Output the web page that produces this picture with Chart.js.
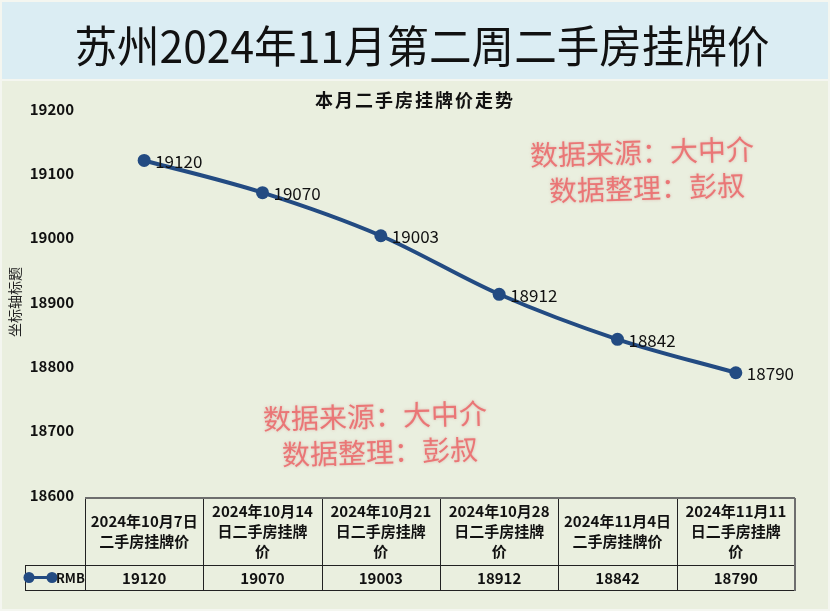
<!DOCTYPE html>
<html>
<head>
<meta charset="utf-8">
<script src="https://cdn.jsdelivr.net/npm/chart.js@4/dist/chart.umd.min.js"></script>
<style>
  html, body { margin: 0; padding: 0; background: #ffffff; }
  #wrap { width: 830px; height: 611px; position: relative; }
</style>
</head>
<body>
<div id="wrap"><canvas id="c"></canvas></div>
<script>
// 数据
const categories = [
  ['2024年10月7日', '二手房挂牌价'],
  ['2024年10月14', '日二手房挂牌', '价'],
  ['2024年10月21', '日二手房挂牌', '价'],
  ['2024年10月28', '日二手房挂牌', '价'],
  ['2024年11月4日', '二手房挂牌价'],
  ['2024年11月11', '日二手房挂牌', '价']
];
const prices = [19120, 19070, 19003, 18912, 18842, 18790];
const seriesName = 'RMB';
const yTicks = [18600, 18700, 18800, 18900, 19000, 19100, 19200];
const mainTitle = '苏州2024年11月第二周二手房挂牌价';
const subTitle = '本月二手房挂牌价走势';
const watermarkLines = ['数据来源：大中介', '数据整理：彭叔'];

const LINE_COLOR = '#234b82';
const FONT = '"Noto Sans CJK SC", "Noto Sans", sans-serif';

// 背景：标题蓝条 + 图表绿底 + 标题文字
const bgPlugin = {
  id: 'bg',
  beforeDraw(chart) {
    const c = chart.ctx;
    c.save();
    c.fillStyle = '#f4f6f0';
    c.fillRect(0, 0, chart.width, chart.height);
    c.fillStyle = '#dbedf3';
    c.fillRect(2, 2, chart.width - 4, 77);
    c.fillStyle = '#eaefdf';
    c.fillRect(2, 81, chart.width - 4, chart.height - 83);

    // 大标题，拉到参考图的宽度
    c.fillStyle = '#111';
    c.textAlign = 'center';
    c.textBaseline = 'middle';
    c.font = '42px ' + FONT;
    const w = c.measureText(mainTitle).width;
    c.save();
    c.translate(422, 46);
    c.scale(695 / w, 1.05);
    c.fillText(mainTitle, 0, 0);
    c.restore();

    c.font = 'bold 18px ' + FONT;
    c.letterSpacing = '2px';
    c.fillText(subTitle, 415, 100);
    c.letterSpacing = '0px';
    c.restore();
  }
};

// 数据标签 + 水印 + 底部数据表
const extrasPlugin = {
  id: 'extras',
  afterDatasetsDraw(chart) {
    const c = chart.ctx;
    const meta = chart.getDatasetMeta(0);
    c.save();
    c.fillStyle = '#111';
    c.font = '17px ' + FONT;
    c.textAlign = 'left';
    c.textBaseline = 'middle';
    meta.data.forEach((pt, i) => {
      c.fillText(String(prices[i]), pt.x + 11, pt.y + 1);
    });
    c.restore();
  },
  afterDraw(chart) {
    const c = chart.ctx;
    const area = chart.chartArea;
    const x = chart.scales.x;

    // 水印
    const drawMark = (cx, cy) => {
      c.save();
      c.translate(cx, cy);
      c.rotate(-0.028);
      c.font = '28px ' + FONT;
      c.fillStyle = '#ea7676';
      c.shadowColor = 'rgba(200,80,80,0.35)';
      c.shadowBlur = 3;
      c.textAlign = 'center';
      c.textBaseline = 'middle';
      c.fillText(watermarkLines[0], 0, 0);
      c.fillText(watermarkLines[1], 4, 36);
      c.restore();
    };
    drawMark(642, 152);
    drawMark(375, 416);

    // 数据表
    const n = categories.length;
    const colW = (area.right - area.left) / n;
    const top = 498, mid = 565, bot = 590;
    const legL = 25;

    c.save();
    c.textAlign = 'center';
    c.textBaseline = 'middle';
    c.fillStyle = '#111';
    categories.forEach((lines, i) => {
      const cx = x.getPixelForValue(i);
      c.font = 'bold 15px ' + FONT;
      const lh = 20;
      const y0 = (top + mid) / 2 - (lines.length - 1) * lh / 2;
      lines.forEach((t, k) => c.fillText(t, cx, y0 + k * lh));
      c.fillText(String(prices[i]), cx, (mid + bot) / 2 + 1);
    });

    // 表格线
    c.strokeStyle = '#222';
    c.lineWidth = 1;
    c.beginPath();
    for (let i = 0; i < n; i++) {
      const bx = Math.round(area.left + i * colW) + 0.5;
      c.moveTo(bx, top); c.lineTo(bx, bot);
    }
    c.moveTo(legL, mid + 0.5); c.lineTo(area.right, mid + 0.5);
    c.moveTo(legL, bot + 0.5); c.lineTo(area.right, bot + 0.5);
    c.moveTo(legL + 0.5, mid); c.lineTo(legL + 0.5, bot);
    c.stroke();
    c.strokeStyle = '#6e6e6e';
    c.lineWidth = 2;
    c.beginPath();
    c.moveTo(area.left, top); c.lineTo(area.right, top);
    c.moveTo(area.right, top); c.lineTo(area.right, bot + 1);
    c.stroke();

    // 图例
    const ly = (mid + bot) / 2;
    c.strokeStyle = LINE_COLOR;
    c.fillStyle = LINE_COLOR;
    c.lineWidth = 3;
    c.beginPath();
    c.moveTo(29, ly); c.lineTo(52, ly);
    c.stroke();
    [29, 52].forEach(px => {
      c.beginPath(); c.arc(px, ly, 5.5, 0, Math.PI * 2); c.fill();
    });
    c.fillStyle = '#111';
    c.font = 'bold 13px ' + FONT;
    c.textAlign = 'left';
    c.fillText(seriesName, 56, ly + 1);
    c.restore();
  }
};

new Chart(document.getElementById('c'), {
  type: 'line',
  data: {
    labels: categories,
    datasets: [{
      label: seriesName,
      data: prices,
      borderColor: LINE_COLOR,
      backgroundColor: LINE_COLOR,
      borderWidth: 4,
      pointRadius: 6.5,
      pointHoverRadius: 6.5,
      pointBackgroundColor: LINE_COLOR,
      pointBorderWidth: 0,
      cubicInterpolationMode: 'monotone',
      fill: false
    }]
  },
  options: {
    responsive: true,
    maintainAspectRatio: false,
    animation: false,
    layout: { padding: { left: 0, right: 35, top: 109, bottom: 0 } },
    plugins: {
      legend: { display: false },
      tooltip: { enabled: false },
      title: { display: false },
      subtitle: { display: false }
    },
    scales: {
      x: {
        offset: true,
        grid: { display: false, drawTicks: false },
        border: { display: false },
        ticks: { display: false },
        afterFit(scale) { scale.height = 116; }
      },
      y: {
        min: 18600,
        max: 19200,
        afterBuildTicks(scale) { scale.ticks = yTicks.map(v => ({ value: v })); },
        grid: { display: false, drawTicks: false },
        border: { display: false },
        ticks: {
          color: '#111',
          padding: 11,
          font: { family: FONT, size: 15, weight: 'bold' },
          callback: v => String(v)
        },
        title: {
          display: true,
          text: '坐标轴标题',
          color: '#222',
          font: { family: FONT, size: 14, weight: 'normal' },
          padding: { top: 6, bottom: 0 }
        },
        afterFit(scale) { scale.width = 85; }
      }
    }
  },
  plugins: [bgPlugin, extrasPlugin]
});
</script>
</body>
</html>
